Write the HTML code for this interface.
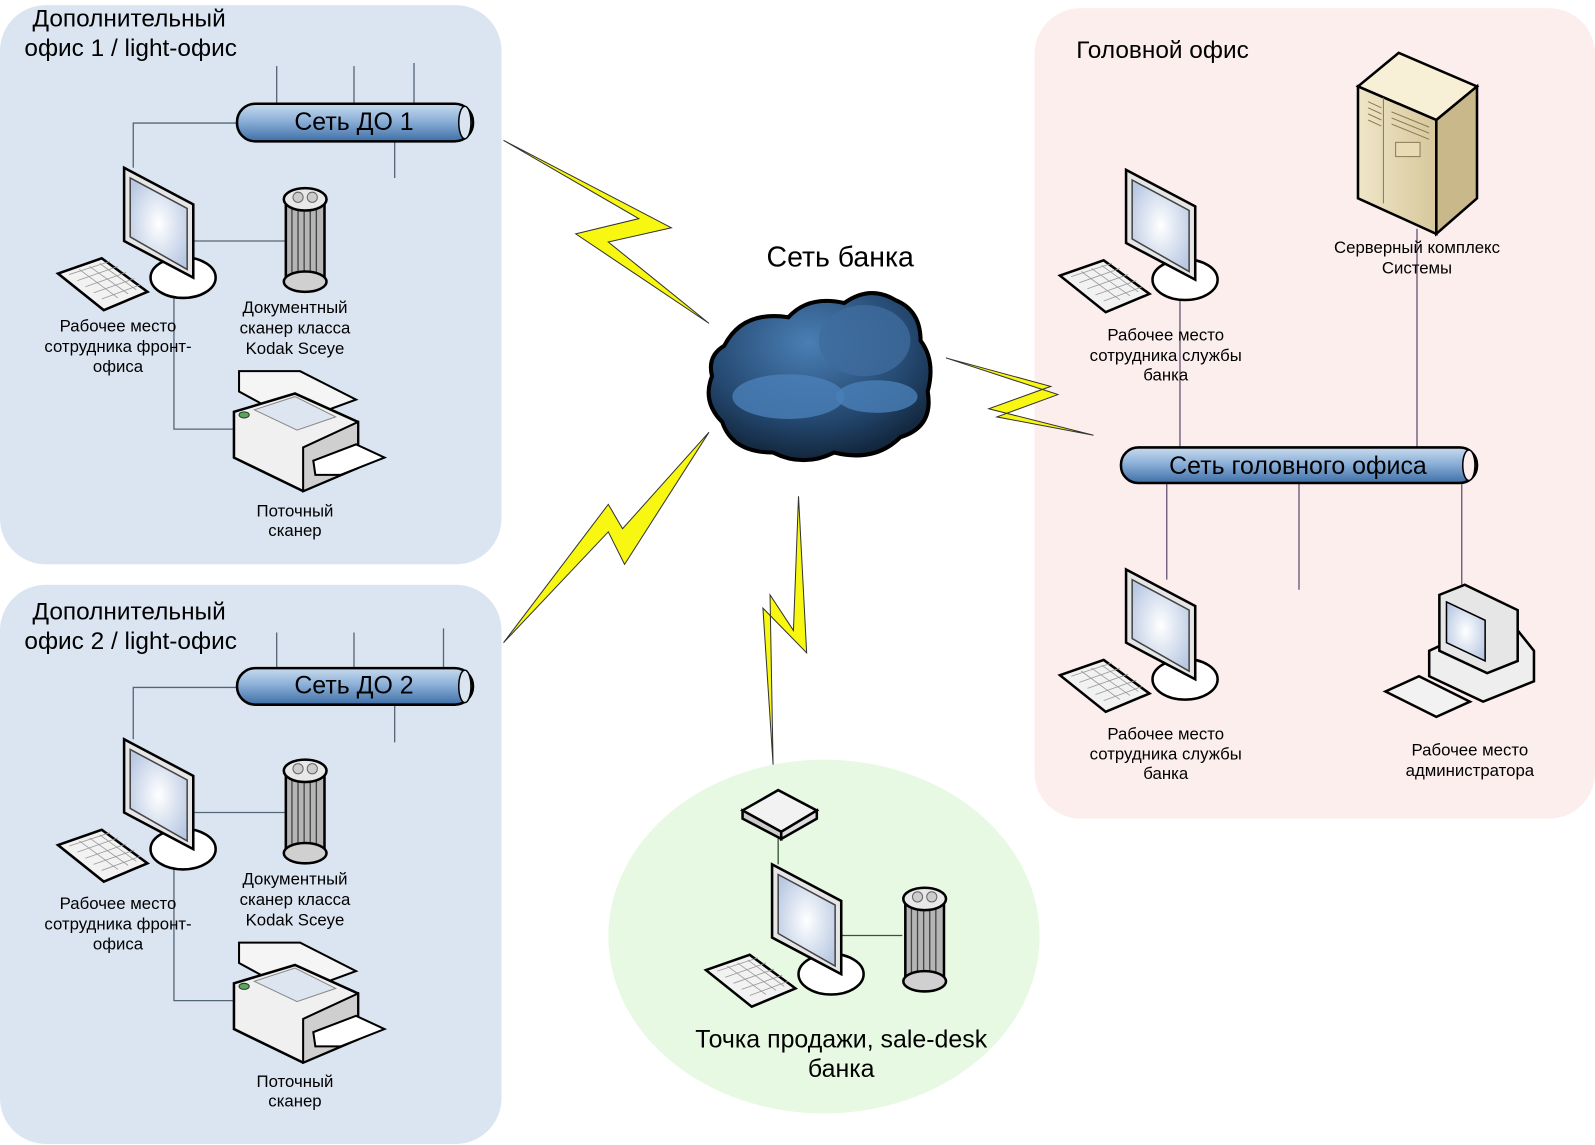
<!DOCTYPE html>
<html><head><meta charset="utf-8"><style>
html,body{margin:0;padding:0;background:#fff}
svg{display:block}
text{font-family:"Liberation Sans",Arial,sans-serif;fill:#000}
</style></head><body>
<svg width="1595" height="1145" viewBox="0 0 1568 1126" preserveAspectRatio="none" xmlns="http://www.w3.org/2000/svg">
<defs>
<linearGradient id="pipe" x1="0" y1="0" x2="0" y2="1">
<stop offset="0" stop-color="#c9dbef"/><stop offset="0.45" stop-color="#8cb0d8"/><stop offset="1" stop-color="#3f6fa6"/></linearGradient>
<radialGradient id="scr" cx="0.5" cy="0.5" r="0.6"><stop offset="0" stop-color="#ffffff"/><stop offset="1" stop-color="#b9c9e3"/></radialGradient>
<radialGradient id="cl" cx="0.45" cy="0.3" r="0.8"><stop offset="0" stop-color="#4a7fb5"/><stop offset="0.6" stop-color="#23466d"/><stop offset="1" stop-color="#0b1725"/></radialGradient>
<linearGradient id="srv" x1="0" y1="0" x2="1" y2="0"><stop offset="0" stop-color="#efe6c8"/><stop offset="1" stop-color="#d7c89c"/></linearGradient>
<g id="mon">
<ellipse cx="62" cy="108" rx="32" ry="20" fill="#fff" stroke="#000" stroke-width="2.5"/>
<polygon points="4,0 72,36 72,108 4,72" fill="#e6e6e6" stroke="#000" stroke-width="2.5"/>
<polygon points="10,10 66,40 66,100 10,68" fill="url(#scr)" stroke="#444" stroke-width="1.5"/>
<polygon points="-61,104 -18,89 27,122 -16,140" fill="#f2f2f2" stroke="#000" stroke-width="2.5"/>
<path d="M-50,105 L-10,92 M-42,111 L-2,97 M-34,117 L6,103 M-26,123 L14,109 M-18,129 L20,115 M-40,100 L-2,128 M-30,97 L8,124 M-20,94 L16,120" stroke="#999" stroke-width="0.8"/>
</g>
<g id="col">
<rect x="3" y="12" width="38" height="80" fill="#b5b5b5" stroke="#000" stroke-width="2.5"/>
<path d="M9,14V90M15,14V90M21,14V90M27,14V90M33,14V90" stroke="#444" stroke-width="1.3"/>
<ellipse cx="22" cy="92" rx="21" ry="10" fill="#d0d0d0" stroke="#000" stroke-width="2.5"/>
<ellipse cx="22" cy="11" rx="21" ry="11" fill="#e8e8e8" stroke="#000" stroke-width="2.5"/>
<circle cx="15" cy="9" r="5" fill="#ccc" stroke="#666"/><circle cx="29" cy="9" r="5" fill="#ccc" stroke="#666"/>
</g>
<g id="prn">
<polygon points="5,0 65,0 120,28 60,50 5,20" fill="#f5f5f5" stroke="#000" stroke-width="2"/>
<polygon points="0,40 60,22 122,50 122,95 68,118 0,85" fill="#f0f0f0" stroke="#000" stroke-width="2.5"/>
<polygon points="68,75 122,50 122,95 68,118" fill="#cfcfcf" stroke="#000" stroke-width="2"/>
<polygon points="20,38 60,25 100,45 62,58" fill="#dde6f0" stroke="#888"/>
<polygon points="78,88 120,72 148,85 105,102 80,102" fill="#fff" stroke="#000" stroke-width="2"/>
<ellipse cx="10" cy="43" rx="5" ry="3" fill="#5a5" stroke="#333"/>
</g>
</defs>

<rect x="0" y="5" width="493" height="550" rx="45" fill="#dbe5f1"/>
<rect x="0" y="575" width="493" height="550" rx="45" fill="#dbe5f1"/>
<rect x="1017" y="8" width="551" height="797" rx="45" fill="#fdeeee"/>
<ellipse cx="810" cy="921" rx="212" ry="174" fill="#e8f9e3"/>

<g>
<text x="32" y="26" font-size="24">Дополнительный</text>
<text x="24" y="55" font-size="24">офис 1 / light-офис</text>
<path d="M272,65V102M348,65V102M407,62V102M388,139V175M233,121H131V165M190,237H280M171,290V422H232" stroke="#556677" stroke-width="1.3" fill="none"/>
<rect x="233" y="102" width="232" height="37" rx="18" fill="url(#pipe)" stroke="#000" stroke-width="2.5"/>
<ellipse cx="457" cy="120.5" rx="6" ry="16" fill="#dbe5f1" stroke="#000" stroke-width="1.5"/>
<text x="348" y="128" font-size="24.5" text-anchor="middle">Сеть ДО 1</text>
<use href="#mon" x="118" y="165"/>
<use href="#col" x="278" y="185"/>
<use href="#prn" x="230" y="365"/>
<g font-size="16.5" text-anchor="middle">
<text x="116" y="326">Рабочее место</text><text x="116" y="346">сотрудника фронт-</text><text x="116" y="366">офиса</text>
<text x="290" y="308">Документный</text><text x="290" y="328">сканер класса</text><text x="290" y="348">Kodak Sceye</text>
<text x="290" y="508">Поточный</text><text x="290" y="527">сканер</text>
</g>
</g>

<text x="32" y="609" font-size="24">Дополнительный</text>
<text x="24" y="638" font-size="24">офис 2 / light-офис</text>
<path d="M272,622V657M348,622V657M436,618V657M388,693V730M233,676H131V727M190,799H280M171,852V984H232" stroke="#556677" stroke-width="1.3" fill="none"/>
<rect x="233" y="657" width="232" height="36" rx="18" fill="url(#pipe)" stroke="#000" stroke-width="2.5"/>
<ellipse cx="457" cy="675" rx="6" ry="16" fill="#dbe5f1" stroke="#000" stroke-width="1.5"/>
<text x="348" y="682" font-size="24.5" text-anchor="middle">Сеть ДО 2</text>
<use href="#mon" x="118" y="727"/>
<use href="#col" x="278" y="747"/>
<use href="#prn" x="230" y="927"/>
<g font-size="16.5" text-anchor="middle">
<text x="116" y="894">Рабочее место</text><text x="116" y="914">сотрудника фронт-</text><text x="116" y="934">офиса</text>
<text x="290" y="870">Документный</text><text x="290" y="890">сканер класса</text><text x="290" y="910">Kodak Sceye</text>
<text x="290" y="1069">Поточный</text><text x="290" y="1088">сканер</text>
</g>

<g fill="#f7f711" stroke="#333" stroke-width="1">
<polygon points="495,138 628,215 566,230 697,318 598,238 660,224"/>
<polygon points="697,425 614,555 598,523 495,632 598,496 612,520"/>
<polygon points="930,352 1033,380 972,402 1075,428 980,410 1040,388"/>
<polygon points="785,488 793,642 750,598 760,752 757,585 780,620"/>
</g>

<text x="826" y="262" font-size="28" text-anchor="middle">Сеть банка</text>
<path d="M712,340 Q730,305 775,312 Q795,290 830,298 Q855,280 880,295 Q905,305 905,335 Q920,355 912,385 Q918,420 885,430 Q860,455 820,445 Q790,460 760,445 Q720,445 710,415 Q690,395 700,370 Q695,350 712,340Z" fill="url(#cl)" stroke="#000" stroke-width="4"/>
<ellipse cx="850" cy="335" rx="45" ry="35" fill="#3e6c9e" opacity="0.8"/>
<ellipse cx="775" cy="390" rx="55" ry="22" fill="#4a80b8" opacity="0.8"/>
<ellipse cx="862" cy="390" rx="40" ry="16" fill="#4a80b8" opacity="0.8"/>

<text x="1058" y="57" font-size="24">Головной офис</text>
<path d="M1160,290V440M1393,225V440M1147,475V570M1277,475V580M1437,475V575" stroke="#665577" stroke-width="1.3"/>
<g stroke="#000" stroke-width="2.5">
<polygon points="1335,85 1375,52 1452,85 1412,118" fill="#f7f0d6"/>
<polygon points="1335,85 1412,118 1412,230 1335,195" fill="url(#srv)"/>
<polygon points="1412,118 1452,85 1452,195 1412,230" fill="#c9b98a"/>
</g>
<path d="M1360,96V200M1345,100L1358,106M1345,106L1358,112M1345,112L1358,118M1345,118L1358,124M1368,110L1405,125M1368,116L1405,131M1368,122L1405,137" stroke="#8a7a55" stroke-width="1"/>
<rect x="1372" y="140" width="24" height="14" fill="#e8dcb5" stroke="#8a7a55"/>
<use href="#mon" x="1103" y="167"/>
<use href="#mon" x="1103" y="560"/>
<g stroke="#000" stroke-width="2.5">
<polygon points="1405,640 1480,605 1508,640 1508,670 1458,690 1405,665" fill="#eee"/>
<polygon points="1415,585 1440,575 1492,600 1492,650 1462,662 1415,640" fill="#e6e6e6"/>
<polygon points="1422,592 1460,610 1460,650 1422,632" fill="url(#scr)" stroke-width="1.5"/>
<polygon points="1362,680 1395,665 1445,690 1412,705" fill="#f2f2f2"/>
</g>
<rect x="1102" y="440" width="350" height="35" rx="17" fill="url(#pipe)" stroke="#000" stroke-width="2.5"/>
<ellipse cx="1444" cy="457.5" rx="6" ry="15" fill="#fdeeee" stroke="#000" stroke-width="1.5"/>
<text x="1276" y="466" font-size="24.5" text-anchor="middle">Сеть головного офиса</text>
<g font-size="16.5" text-anchor="middle">
<text x="1393" y="249">Серверный комплекс</text><text x="1393" y="269">Системы</text>
<text x="1146" y="335">Рабочее место</text><text x="1146" y="355">сотрудника службы</text><text x="1146" y="374">банка</text>
<text x="1146" y="727">Рабочее место</text><text x="1146" y="747">сотрудника службы</text><text x="1146" y="766">банка</text>
<text x="1445" y="743">Рабочее место</text><text x="1445" y="763">администратора</text>
</g>

<path d="M765,820V850M828,920H887" stroke="#335533" stroke-width="1.3"/>
<g stroke="#000" stroke-width="2.5">
<polygon points="730,797 765,777 803,797 768,818" fill="#f2f2f2"/>
<polygon points="730,797 768,818 768,825 730,805" fill="#ccc"/>
<polygon points="768,818 803,797 803,805 768,825" fill="#ddd"/>
</g>
<use href="#mon" x="755" y="850"/>
<use href="#col" x="887" y="873"/>
<text x="827" y="1030" font-size="24.5" text-anchor="middle">Точка продажи, sale-desk</text>
<text x="827" y="1059" font-size="24.5" text-anchor="middle">банка</text>
</svg>
</body></html>
